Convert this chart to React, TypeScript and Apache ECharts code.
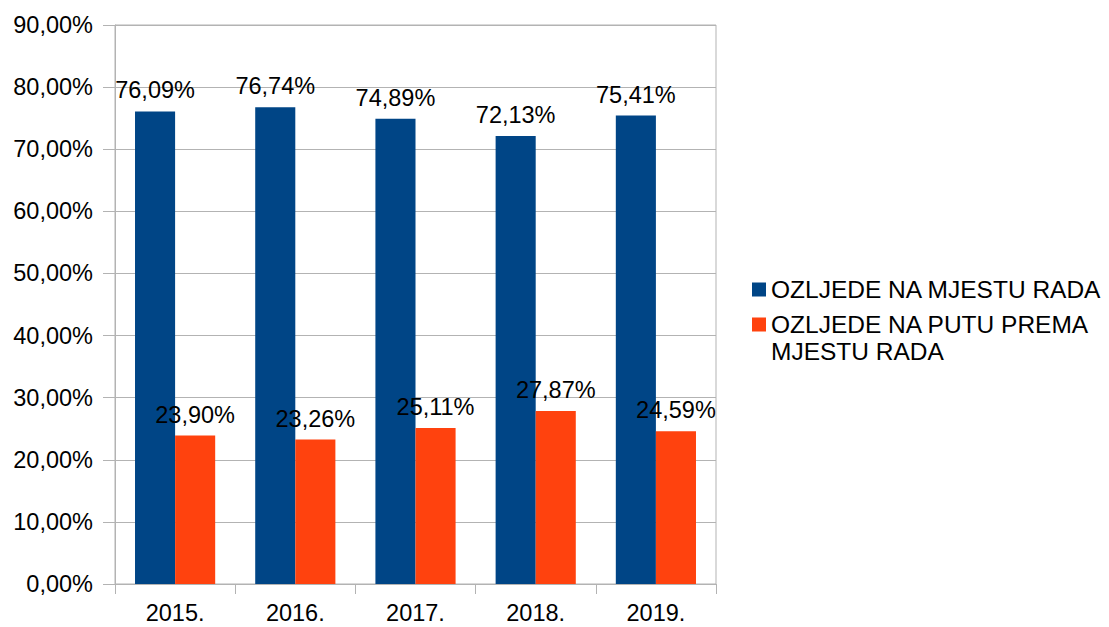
import React, { useEffect, useRef } from "react";
import * as echarts from "echarts";

const categories = ["2015.", "2016.", "2017.", "2018.", "2019."];
const seriesNames = ["OZLJEDE NA MJESTU RADA", "OZLJEDE NA PUTU PREMA MJESTU RADA"];
const atWork = [76.09, 76.74, 74.89, 72.13, 75.41];
const onTheWay = [23.9, 23.26, 25.11, 27.87, 24.59];
const yMin = 0;
const yMax = 90;
const yInterval = 10;

const FONT = "'Liberation Sans', Arial, sans-serif";
const GRID = "#b3b3b3";
const fmt = (v: number) => v.toFixed(2).replace(".", ",") + "%";

export default function App() {
  const ref = useRef<HTMLDivElement>(null);
  useEffect(() => {
    if (!ref.current) return;
    const chart = echarts.init(ref.current, null, { renderer: "svg" });
    const label = {
      show: true,
      position: "top" as const,
      distance: 9,
      color: "#000",
      fontSize: 23.5,
      fontFamily: FONT,
      formatter: (p: any) => fmt(p.value),
    };
    chart.setOption({
      animation: false,
      backgroundColor: "#fff",
      textStyle: { fontFamily: FONT },
      grid: {
        left: 115,
        right: 393,
        top: 25,
        bottom: 43,
        show: true,
        borderColor: GRID,
        borderWidth: 1,
        containLabel: false,
      },
      legend: [
        {
          data: [seriesNames[0]],
          orient: "vertical",
          left: 747,
          top: 272,
          itemWidth: 14,
          itemHeight: 14,
          icon: "rect",
          textStyle: { fontSize: 24.5, color: "#000", fontFamily: FONT },
        },
        {
          data: [seriesNames[1]],
          orient: "vertical",
          left: 747,
          top: 306,
          itemWidth: 14,
          itemHeight: 41,
          icon: "path://M0,0h14v14h-14z M0,41h0.01",
          formatter: () => "OZLJEDE NA PUTU PREMA\nMJESTU RADA",
          textStyle: {
            fontSize: 24.5,
            color: "#000",
            fontFamily: FONT,
            lineHeight: 27,
          },
        },
      ],
      xAxis: {
        type: "category",
        data: categories,
        boundaryGap: true,
        axisLine: { show: true, lineStyle: { color: GRID } },
        axisTick: { show: true, length: 10, lineStyle: { color: GRID } },
        axisLabel: { color: "#000", fontSize: 23.5, fontFamily: FONT, margin: 17 },
        splitLine: { show: false },
      },
      yAxis: {
        type: "value",
        min: yMin,
        max: yMax,
        interval: yInterval,
        axisLine: { show: true, lineStyle: { color: GRID } },
        axisTick: { show: true, length: 12, lineStyle: { color: GRID } },
        axisLabel: {
          color: "#000",
          fontSize: 23.5,
          fontFamily: FONT,
          margin: 22,
          formatter: (v: number) => fmt(v),
        },
        splitLine: { show: true, lineStyle: { color: GRID } },
      },
      series: [
        {
          name: seriesNames[0],
          type: "bar",
          data: atWork,
          itemStyle: { color: "#004586" },
          barGap: "0%",
          barCategoryGap: "33.3%",
          label,
        },
        {
          name: seriesNames[1],
          type: "bar",
          data: onTheWay,
          itemStyle: { color: "#ff420e" },
          barGap: "0%",
          barCategoryGap: "33.3%",
          label,
        },
      ],
    });
    return () => chart.dispose();
  }, []);
  return (
    <div
      ref={ref}
      style={{ position: "absolute", left: 0, top: 0, width: 1109, height: 627 }}
    />
  );
}
